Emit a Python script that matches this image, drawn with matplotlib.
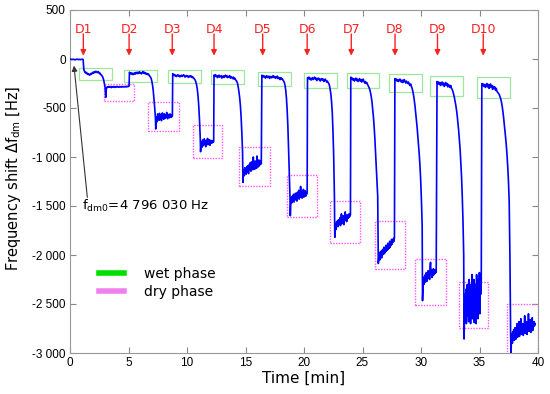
import numpy as np
import matplotlib
matplotlib.use("Agg")
import matplotlib.pyplot as plt
from matplotlib.lines import Line2D
from matplotlib.patches import Rectangle

# ---------------- data ----------------
# baseline before first dosing
base_t = (0.0, 1.12)
base_v = [0, -3, -6, -2, -5, -8, -4, -1, -6, -3, -7, -4, -2, -5]

# wet phases (time span, values incl. the decline at the end)
wet1_t = (1.18, 3.0)
wet1_v = [-105, -128, -140, -135, -150, -145, -158, -152, -165, -160, -148, -155, -140, -135, -145,
          -130, -138, -125, -132, -140, -128, -135, -150, -145, -160, -165, -175, -190, -215, -250, -290]
wet2_t = (5.08, 7.3)
wet2_v = [-135, -150, -140, -155, -145, -160, -150, -142, -155, -138, -148, -135, -150, -142, -130,
          -145, -138, -152, -140, -128, -145, -135, -150, -140, -155, -148, -160, -152, -165, -175,
          -185, -200, -230, -270, -330, -410, -500, -600]
wet3_t = (8.78, 11.13)
wet3_v = [-150, -165, -158, -172, -165, -180, -170, -160, -175, -168, -182, -175, -165, -178, -170,
          -160, -172, -185, -175, -168, -180, -172, -188, -178, -170, -182, -175, -190, -185, -195,
          -205, -215, -235, -265, -310, -380, -480, -620, -800]
wet4_t = (12.31, 14.75)
wet4_v = [-165, -175, -160, -180, -170, -190, -175, -165, -185, -178, -170, -195, -180, -172, -188,
          -175, -165, -182, -170, -190, -178, -185, -170, -195, -180, -190, -200, -185, -205, -195,
          -210, -220, -230, -250, -290, -340, -400, -480, -600, -760, -950]
wet5_t = (16.4, 18.8)
wet5_v = [-165, -180, -170, -185, -175, -195, -180, -170, -190, -182, -175, -198, -185, -178, -192,
          -180, -170, -188, -178, -195, -185, -192, -175, -200, -188, -195, -210, -190, -205, -200,
          -215, -225, -240, -270, -320, -400, -520, -680, -900, -1150, -1400]
wet6_t = (20.3, 22.6)
wet6_v = [-190, -200, -185, -205, -195, -215, -200, -190, -210, -198, -185, -205, -195, -220, -205,
          -195, -210, -200, -225, -210, -200, -215, -205, -230, -215, -205, -220, -235, -225, -240,
          -250, -270, -310, -360, -440, -550, -750, -1000, -1400]
wet7_t = (24.0, 26.3)
wet7_v = [-185, -205, -195, -215, -200, -225, -210, -195, -220, -205, -230, -215, -200, -225, -210,
          -235, -215, -205, -225, -245, -230, -250, -240, -260, -275, -290, -310, -340, -380, -430,
          -500, -580, -680, -800, -950, -1100, -1250, -1400]
wet8_t = (27.77, 30.1)
wet8_v = [-200, -215, -205, -225, -210, -230, -215, -205, -225, -235, -215, -240, -220, -210, -230,
          -245, -225, -240, -250, -235, -260, -270, -255, -280, -300, -330, -370, -420, -480, -550,
          -620, -700, -790, -880, -980, -1100, -1250, -1450, -1700]
wet9_t = (31.37, 33.65)
wet9_v = [-230, -250, -235, -260, -240, -270, -250, -235, -265, -245, -280, -255, -240, -270, -250,
          -285, -260, -275, -290, -270, -300, -310, -330, -360, -390, -430, -470, -520, -580, -650,
          -730, -820, -920, -1050, -1200, -1400, -1650, -2000]
wet10_t = (35.2, 37.66)
wet10_v = [-250, -270, -255, -280, -260, -290, -265, -250, -285, -260, -300, -275, -255, -290, -270,
           -310, -280, -300, -285, -320, -300, -330, -340, -350, -360, -380, -400, -430, -470, -520,
           -580, -650, -720, -800, -880, -980, -1100, -1250, -1450, -2000, -2800]

# dry phases
dry1_t = (3.05, 5.05)
dry1_v = [-392, -300, -285, -290, -282, -288, -280, -285, -292, -283, -287, -280, -284, -290, -282,
          -286, -279, -284, -288, -281, -285, -283, -287, -280, -284, -282, -286, -280, -283, -285,
          -278, -282, -280, -276]
dry2_t = (7.33, 8.75)
dry2_v = [-714, -620, -590, -640, -560, -600, -575, -625, -555, -595, -610, -570, -630, -585, -550,
          -600, -580, -615, -560, -590, -605, -570, -595, -545, -585, -610, -565, -590, -575, -600,
          -560, -585, -570, -595, -575, -580]
dry3_t = (11.16, 12.28)
dry3_v = [-946, -880, -840, -900, -850, -825, -885, -860, -815, -870, -845, -895, -830, -865, -850,
          -810, -875, -840, -860, -825, -880, -845, -830, -860, -840, -855, -835, -850, -845]
dry4_t = (14.78, 16.35)
dry4_v = [-1259, -1180, -1130, -1190, -1110, -1160, -1125, -1175, -1100, -1150, -1090, -1140, -1170,
          -1080, -1130, -1060, -1120, -1145, -1050, -1110, -1085, -1130, -1000, -1100, -1070, -1125,
          -1040, -1095, -1065, -1115, -990, -1080, -1050, -1100, -1030, -1085, -1060, -1075, -1040, -1070]
dry5_t = (18.83, 20.27)
dry5_v = [-1599, -1480, -1420, -1470, -1400, -1455, -1430, -1380, -1460, -1410, -1440, -1370, -1430,
          -1395, -1450, -1360, -1420, -1400, -1340, -1430, -1380, -1410, -1300, -1400, -1370, -1420,
          -1350, -1395, -1330, -1410, -1360, -1385, -1345, -1400, -1370, -1380, -1360]
dry6_t = (22.63, 23.97)
dry6_v = [-1820, -1720, -1680, -1740, -1660, -1700, -1650, -1710, -1640, -1690, -1670, -1620, -1700,
          -1650, -1580, -1680, -1630, -1660, -1600, -1690, -1620, -1650, -1560, -1640, -1610, -1660,
          -1590, -1630, -1600, -1620, -1580, -1610, -1600, -1590]
dry7_t = (26.35, 27.73)
dry7_v = [-2086, -2040, -1990, -2050, -1970, -2020, -1960, -2030, -1950, -2000, -1940, -1990, -1920,
          -1985, -1930, -1970, -1900, -1960, -1910, -1950, -1880, -1940, -1890, -1930, -1860, -1920,
          -1870, -1900, -1840, -1890, -1850, -1870, -1830, -1860, -1820]
dry8_t = (30.13, 31.3)
dry8_v = [-2466, -2330, -2260, -2300, -2220, -2280, -2200, -2250, -2180, -2270, -2210, -2240, -2160,
          -2230, -2190, -2250, -2120, -2075, -2200, -2150, -2230, -2170, -2210, -2140, -2200, -2160,
          -2190, -2150, -2180, -2170]
dry9_t = (33.68, 35.15)
dry9_v = [-2857, -2600, -2400, -2650, -2350, -2700, -2450, -2300, -2620, -2380, -2680, -2250, -2550,
          -2420, -2700, -2300, -2600, -2200, -2650, -2350, -2480, -2250, -2690, -2400, -2550, -2300,
          -2700, -2200, -2600, -2350, -2650, -2250, -2500, -2180, -2600, -2300, -2400, -2250]
dry10_t = (37.69, 39.75)
dry10_v = [-3000, -2880, -2800, -2900, -2780, -2850, -2760, -2870, -2800, -2740, -2860, -2780, -2820,
           -2700, -2840, -2760, -2800, -2680, -2830, -2750, -2790, -2650, -2810, -2740, -2780, -2700,
           -2820, -2720, -2760, -2620, -2800, -2730, -2770, -2680, -2810, -2700, -2750, -2600, -2780,
           -2720, -2750, -2660, -2790, -2700, -2740, -2640, -2770, -2690, -2730, -2680, -2720, -2700]

# dosing events
dose_labels = ["D1", "D2", "D3", "D4", "D5", "D6", "D7", "D8", "D9", "D10"]
dose_times = [1.14, 5.05, 8.74, 12.31, 16.47, 20.27, 24.04, 27.78, 31.41, 35.32]

# phase boxes: (t_start, t_end, top, bottom)
wet_boxes = [(0.78, 3.58, -96, -214), (4.65, 7.43, -112, -232), (8.37, 11.22, -109, -249),
             (12.02, 14.84, -109, -259), (16.08, 18.9, -130, -272), (19.98, 22.81, -143, -296),
             (23.64, 26.44, -143, -300), (27.26, 30.12, -153, -334), (30.78, 33.55, -173, -378),
             (34.8, 37.57, -181, -395)]
dry_boxes = [(2.89, 5.51, -252, -429), (6.66, 9.28, -439, -739), (10.48, 12.96, -673, -1007),
             (14.48, 17.07, -895, -1296), (18.56, 21.07, -1181, -1616), (22.21, 24.78, -1449, -1878),
             (26.06, 28.63, -1657, -2147), (29.52, 32.15, -2041, -2507), (33.26, 35.72, -2272, -2742),
             (37.32, 39.97, -2500, -3007)]

xticks = [0, 5, 10, 15, 20, 25, 30, 35, 40]
yticks = [500, 0, -500, -1000, -1500, -2000, -2500, -3000]
ytick_labels = ["500", "0", "-500", "-1 000", "-1 500", "-2 000", "-2 500", "-3 000"]

# ---------------- assemble series ----------------
segments = [(base_t, base_v),
            (wet1_t, wet1_v), (dry1_t, dry1_v), (wet2_t, wet2_v), (dry2_t, dry2_v),
            (wet3_t, wet3_v), (dry3_t, dry3_v), (wet4_t, wet4_v), (dry4_t, dry4_v),
            (wet5_t, wet5_v), (dry5_t, dry5_v), (wet6_t, wet6_v), (dry6_t, dry6_v),
            (wet7_t, wet7_v), (dry7_t, dry7_v), (wet8_t, wet8_v), (dry8_t, dry8_v),
            (wet9_t, wet9_v), (dry9_t, dry9_v), (wet10_t, wet10_v), (dry10_t, dry10_v)]
t_all, v_all = [], []
for (t0, t1), vals in segments:
    t_all.append(np.linspace(t0, t1, len(vals)))
    v_all.append(np.asarray(vals, dtype=float))
t_all = np.concatenate(t_all)
v_all = np.concatenate(v_all)

# ---------------- plot ----------------
plt.rcParams['font.family'] = ['DejaVu Sans']
fig = plt.figure(figsize=(5.5, 3.94), dpi=100)
ax = fig.add_axes([70 / 550, 1 - 353 / 394, 468 / 550, 343 / 394])

for (a, b, top, bot) in wet_boxes:
    ax.add_patch(Rectangle((a, bot), b - a, top - bot, fill=False,
                           edgecolor='#9be89b', lw=0.9, zorder=2))
for (a, b, top, bot) in dry_boxes:
    ax.add_patch(Rectangle((a, bot), b - a, top - bot, fill=False,
                           edgecolor='#ff55ff', lw=1.0, ls=(0, (1, 1)), zorder=2))

ax.plot(t_all, v_all, color='#0000ff', lw=1.2, zorder=3)

for lab, t in zip(dose_labels, dose_times):
    ax.annotate('', xy=(t, 34), xytext=(t, 255),
                arrowprops=dict(arrowstyle='-|>', color='#ff2020', lw=1.0,
                                mutation_scale=8, shrinkA=0, shrinkB=0))
    ax.text(t, 306, lab, color='#ff2020', fontsize=9, ha='center', va='center')

ax.annotate('', xy=(0.34, -68), xytext=(1.48, -1412),
            arrowprops=dict(arrowstyle='-|>', color='#333333', lw=0.8,
                            mutation_scale=8, shrinkA=0, shrinkB=0))
ax.text(1.0, -1500, r'$\mathregular{f_{dm0}}$=4 796 030 Hz', fontsize=9.5,
        ha='left', va='center')

handles = [Line2D([], [], color='#00e000', lw=4), Line2D([], [], color='#f080f0', lw=4)]
ax.legend(handles, ['wet phase', 'dry phase'], loc='upper left',
          bbox_to_anchor=(0.062, 0.25), frameon=False, fontsize=10,
          handlelength=1.8, handletextpad=1.45, labelspacing=0.25,
          borderpad=0, borderaxespad=0)

ax.set_xlim(0, 40)
ax.set_ylim(-3000, 500)
ax.set_xticks(xticks)
ax.set_yticks(yticks)
ax.set_yticklabels(ytick_labels)
for lbl in ax.get_xticklabels() + ax.get_yticklabels():
    lbl.set_fontfamily('Liberation Sans')
    lbl.set_fontsize(8.5)
ax.tick_params(direction='in', length=4, width=0.8, color='#888888',
               top=True, right=True, pad=3)
for sp in ax.spines.values():
    sp.set_color('#999999')
    sp.set_linewidth(0.8)

ax.set_xlabel('Time [min]', fontsize=11, labelpad=1)
ax.set_ylabel(r'Frequency shift $\mathregular{\Delta f_{dm}}$ [Hz]', fontsize=10.5)
ax.yaxis.set_label_coords(-0.1, 0.51)

fig.savefig('out.png', dpi=100)
